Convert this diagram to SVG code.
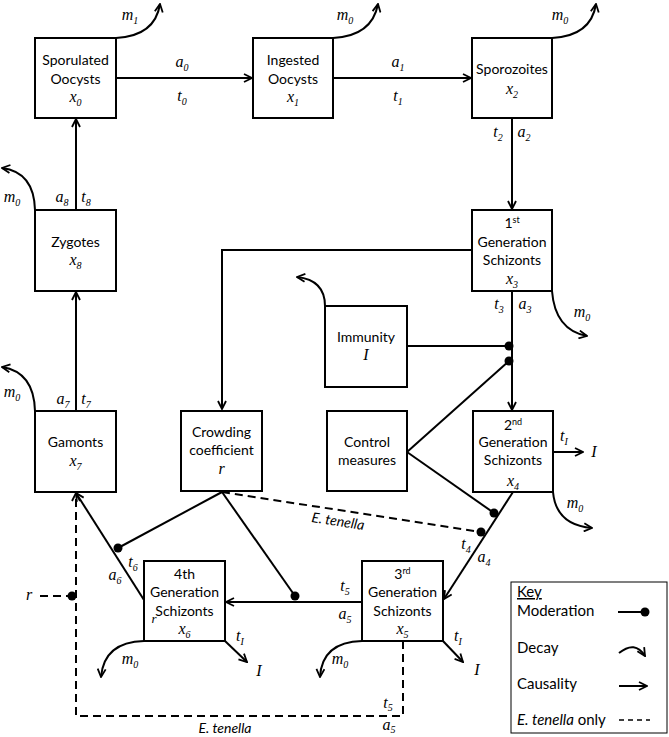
<svg xmlns="http://www.w3.org/2000/svg" width="669" height="737" viewBox="0 0 669 737">
<style>
.box{fill:#fff;stroke:#000;stroke-width:2}
.ln{fill:none;stroke:#000;stroke-width:2}
.dash{stroke-dasharray:8 5}
.t{font-family:Lato,"Liberation Sans",sans-serif;font-size:14px;text-anchor:middle;fill:#000}
.k{font-family:Lato,"Liberation Sans",sans-serif;font-size:15px;fill:#000}
.m{font-family:"Liberation Serif",serif;font-style:italic;font-size:16px;text-anchor:middle;fill:#000}
.s{font-size:10px}
.sup{font-size:9px}
.et{font-family:Lato,"Liberation Sans",sans-serif;font-style:italic;font-size:14px;text-anchor:middle;fill:#000}
</style>
<defs>
<marker id="ah" viewBox="0 0 10 10" refX="9" refY="5" markerWidth="10" markerHeight="10" markerUnits="userSpaceOnUse" orient="auto">
<path d="M1,1 L9,5 L1,9" fill="none" stroke="#000" stroke-width="1.8"/>
</marker>
</defs>

<g id="connectors">
<line class="ln" x1="116" y1="78" x2="252" y2="78" marker-end="url(#ah)"/>
<line class="ln" x1="333" y1="78" x2="471" y2="78" marker-end="url(#ah)"/>
<line class="ln" x1="512" y1="118" x2="512" y2="209" marker-end="url(#ah)"/>
<polyline class="ln" points="472,250 222,250 222,409" marker-end="url(#ah)"/>
<line class="ln" x1="512" y1="291" x2="512" y2="410" marker-end="url(#ah)"/>
<line class="ln" x1="407" y1="346" x2="509" y2="346"/>
<line class="ln" x1="407" y1="452" x2="509" y2="361"/>
<line class="ln" x1="407" y1="452" x2="494" y2="513"/>
<line class="ln" x1="513" y1="492" x2="444" y2="599" marker-end="url(#ah)"/>
<line class="ln dash" x1="222" y1="492" x2="481" y2="532"/>
<line class="ln" x1="222" y1="492" x2="118" y2="548"/>
<line class="ln" x1="222" y1="492" x2="295" y2="596"/>
<line class="ln" x1="362" y1="602" x2="226" y2="602" marker-end="url(#ah)"/>
<line class="ln" x1="144" y1="600" x2="76" y2="493" marker-end="url(#ah)"/>
<line class="ln" x1="76" y1="411" x2="76" y2="292" marker-end="url(#ah)"/>
<line class="ln" x1="76" y1="210" x2="76" y2="119" marker-end="url(#ah)"/>
<line class="ln" x1="553" y1="452" x2="583" y2="452" marker-end="url(#ah)"/>
<line class="ln" x1="443" y1="641" x2="463" y2="662" marker-end="url(#ah)"/>
<line class="ln" x1="225" y1="641" x2="247" y2="662" marker-end="url(#ah)"/>
<polyline class="ln dash" points="403,641 403,716 76,716 76,493" marker-end="url(#ah)"/>
<line class="ln dash" x1="40" y1="596" x2="70" y2="596"/>
<!-- decay curves -->
<path class="ln" d="M116,38 Q155,36 160,4" marker-end="url(#ah)"/>
<path class="ln" d="M333,38 Q372,36 378,4" marker-end="url(#ah)"/>
<path class="ln" d="M552,38 Q591,36 596,4" marker-end="url(#ah)"/>
<path class="ln" d="M35,210 Q34,172 2,168" marker-end="url(#ah)"/>
<path class="ln" d="M35,411 Q34,372 2,367" marker-end="url(#ah)"/>
<path class="ln" d="M325,306 Q325,280 297,277" marker-end="url(#ah)"/>
<path class="ln" d="M552,291 Q555,330 587,336" marker-end="url(#ah)"/>
<path class="ln" d="M553,492 Q556,525 592,528" marker-end="url(#ah)"/>
<path class="ln" d="M362,641 Q322,642 320,677" marker-end="url(#ah)"/>
<path class="ln" d="M144,641 Q104,642 101,677" marker-end="url(#ah)"/>
<!-- dots -->
<circle cx="509" cy="346" r="4.5"/>
<circle cx="509" cy="361" r="4.5"/>
<circle cx="494" cy="513" r="4.5"/>
<circle cx="481" cy="532" r="4.5"/>
<circle cx="118" cy="548" r="4.5"/>
<circle cx="295" cy="596" r="4.5"/>
<circle cx="72" cy="596" r="4.5"/>
</g>

<g id="labels">
<text class="m" x="130" y="20">m<tspan class="s" dy="4">1</tspan></text>
<text class="m" x="345" y="20">m<tspan class="s" dy="4">0</tspan></text>
<text class="m" x="560" y="20">m<tspan class="s" dy="4">0</tspan></text>
<text class="m" x="182" y="67">a<tspan class="s" dy="4">0</tspan></text>
<text class="m" x="182" y="101">t<tspan class="s" dy="4">0</tspan></text>
<text class="m" x="398" y="67">a<tspan class="s" dy="4">1</tspan></text>
<text class="m" x="398" y="101">t<tspan class="s" dy="4">1</tspan></text>
<text class="m" x="498" y="137">t<tspan class="s" dy="4">2</tspan></text>
<text class="m" x="524" y="137">a<tspan class="s" dy="4">2</tspan></text>
<text class="m" x="499" y="309">t<tspan class="s" dy="4">3</tspan></text>
<text class="m" x="525" y="309">a<tspan class="s" dy="4">3</tspan></text>
<text class="m" x="582" y="317">m<tspan class="s" dy="4">0</tspan></text>
<text class="m" x="564" y="441">t<tspan class="s" dy="4">I</tspan></text>
<text class="m" x="594" y="457">I</text>
<text class="m" x="575" y="508">m<tspan class="s" dy="4">0</tspan></text>
<text class="m" x="466" y="549">t<tspan class="s" dy="4">4</tspan></text>
<text class="m" x="484" y="562">a<tspan class="s" dy="4">4</tspan></text>
<text class="m" x="345" y="591">t<tspan class="s" dy="4">5</tspan></text>
<text class="m" x="345" y="619">a<tspan class="s" dy="4">5</tspan></text>
<text class="m" x="458" y="641">t<tspan class="s" dy="4">I</tspan></text>
<text class="m" x="477" y="675">I</text>
<text class="m" x="340" y="664">m<tspan class="s" dy="4">0</tspan></text>
<text class="m" x="388" y="708">t<tspan class="s" dy="3">5</tspan></text>
<text class="m" x="389" y="730">a<tspan class="s" dy="3">5</tspan></text>
<text class="et" x="225" y="733">E. tenella</text>
<text class="et" x="338" y="526" transform="rotate(8.8 338 521)">E. tenella</text>
<text class="m" x="240" y="641">t<tspan class="s" dy="4">I</tspan></text>
<text class="m" x="259" y="676">I</text>
<text class="m" x="130" y="664">m<tspan class="s" dy="4">0</tspan></text>
<text class="m" x="133" y="567">t<tspan class="s" dy="4">6</tspan></text>
<text class="m" x="115" y="580">a<tspan class="s" dy="4">6</tspan></text>
<text class="m" x="29" y="600">r</text>
<text class="m" x="63" y="404">a<tspan class="s" dy="4">7</tspan></text>
<text class="m" x="86" y="404">t<tspan class="s" dy="4">7</tspan></text>
<text class="m" x="12" y="397">m<tspan class="s" dy="4">0</tspan></text>
<text class="m" x="62" y="202">a<tspan class="s" dy="4">8</tspan></text>
<text class="m" x="86" y="202">t<tspan class="s" dy="4">8</tspan></text>
<text class="m" x="12" y="202">m<tspan class="s" dy="4">0</tspan></text>
</g>

<g id="sporulated">
<rect class="box" x="35" y="38" width="81" height="80"/>
<text class="t" x="75.5" y="65">Sporulated</text>
<text class="t" x="75.5" y="84">Oocysts</text>
<text class="m" x="75.5" y="102">x<tspan class="s" dy="4">0</tspan></text>
</g>
<g id="ingested">
<rect class="box" x="253" y="38" width="80" height="80"/>
<text class="t" x="293" y="65">Ingested</text>
<text class="t" x="293" y="84">Oocysts</text>
<text class="m" x="293" y="102">x<tspan class="s" dy="4">1</tspan></text>
</g>
<g id="sporozoites">
<rect class="box" x="472" y="38" width="80" height="80"/>
<text class="t" x="512" y="74">Sporozoites</text>
<text class="m" x="512" y="94">x<tspan class="s" dy="4">2</tspan></text>
</g>
<g id="gen1">
<rect class="box" x="472" y="210" width="80" height="81"/>
<text class="t" x="512" y="228">1<tspan class="sup" dy="-5">st</tspan></text>
<text class="t" x="512" y="247">Generation</text>
<text class="t" x="512" y="265">Schizonts</text>
<text class="m" x="512" y="284">x<tspan class="s" dy="4">3</tspan></text>
</g>
<g id="zygotes">
<rect class="box" x="35" y="210" width="81" height="81"/>
<text class="t" x="75.5" y="247">Zygotes</text>
<text class="m" x="75.5" y="265">x<tspan class="s" dy="4">8</tspan></text>
</g>
<g id="immunity">
<rect class="box" x="325" y="306" width="82" height="81"/>
<text class="t" x="366" y="342">Immunity</text>
<text class="m" x="366" y="360">I</text>
</g>
<g id="gamonts">
<rect class="box" x="35" y="411" width="81" height="81"/>
<text class="t" x="75.5" y="447">Gamonts</text>
<text class="m" x="75.5" y="466">x<tspan class="s" dy="4">7</tspan></text>
</g>
<g id="crowding">
<rect class="box" x="181" y="411" width="81" height="80"/>
<text class="t" x="221.5" y="437">Crowding</text>
<text class="t" x="221.5" y="455">coefficient</text>
<text class="m" x="221.5" y="474">r</text>
</g>
<g id="control">
<rect class="box" x="327" y="411" width="80" height="80"/>
<text class="t" x="367" y="447">Control</text>
<text class="t" x="367" y="465">measures</text>
</g>
<g id="gen2">
<rect class="box" x="473" y="411" width="80" height="81"/>
<text class="t" x="513" y="430">2<tspan class="sup" dy="-5">nd</tspan></text>
<text class="t" x="513" y="447">Generation</text>
<text class="t" x="513" y="465">Schizonts</text>
<text class="m" x="513" y="486">x<tspan class="s" dy="4">4</tspan></text>
</g>
<g id="gen3">
<rect class="box" x="362" y="561" width="81" height="80"/>
<text class="t" x="402.5" y="579">3<tspan class="sup" dy="-5">rd</tspan></text>
<text class="t" x="402.5" y="597">Generation</text>
<text class="t" x="402.5" y="616">Schizonts</text>
<text class="m" x="402.5" y="634">x<tspan class="s" dy="4">5</tspan></text>
</g>
<g id="gen4">
<rect class="box" x="144" y="561" width="81" height="80"/>
<text class="t" x="184.5" y="579">4th</text>
<text class="t" x="184.5" y="597">Generation</text>
<text class="t" x="184.5" y="616">Schizonts</text>
<text class="m" x="154" y="623" style="font-size:13px">r</text>
<text class="m" x="184.5" y="634">x<tspan class="s" dy="4">6</tspan></text>
</g>
<g id="key">
<rect x="511" y="582" width="156" height="151" fill="#fff" stroke="#000" stroke-width="1"/>
<text class="k" x="517" y="597" text-decoration="underline">Key</text>
<text class="k" x="517" y="616">Moderation</text>
<text class="k" x="517" y="653">Decay</text>
<text class="k" x="517" y="689">Causality</text>
<text class="k" x="517" y="725"><tspan font-style="italic">E. tenella</tspan> only</text>
<line class="ln" x1="618" y1="612" x2="644" y2="612"/>
<circle cx="645" cy="612" r="4.5"/>
<path class="ln" d="M619,653 Q635,640 645,656" marker-end="url(#ah)"/>
<line class="ln" x1="619" y1="686" x2="647" y2="686" marker-end="url(#ah)"/>
<line class="ln" x1="619" y1="720" x2="650" y2="720" style="stroke-dasharray:5 4;stroke-width:1.5"/>
</g>
</svg>
